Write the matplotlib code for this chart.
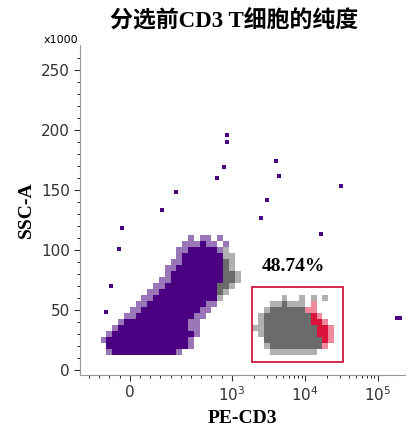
import numpy as np
import matplotlib
matplotlib.use('Agg')
import matplotlib.pyplot as plt
from matplotlib.patches import Rectangle

# density map: rows from y=110 down to y=10 (step 5, x1000),
# columns from u=-0.48 in steps of 0.08 (u = display decades, 0 at value 0)
# P/p purple dense/sparse, G/g gray, R/r red, '.' empty
density_rows = [
    "................p.pp.p",
    "...............pppPpp.p",
    "..............ppPPPPPpg",
    "..............pPPPPPPPgg",
    ".............ppPPPPPPPGg",
    "............ppPPPPPPPPGg",
    "............pPPPPPPPPPGGg",
    "...........ppPPPPPPPPPGGg",
    "..........ppPPPPPPPPPGGg",
    ".........ppPPPPPPPPPPGg",
    "........ppPPPPPPPPPPPg..........g..g.g.g",
    ".......ppPPPPPPPPPPpp.........ggGggg.r",
    "......ppPPPPPPPPPPpp.........gGGGGGGrr",
    ".....ppPPPPPPPPPPpp.........gGGGGGGGGRr",
    "....pPPPPPPPPPPPpp..........gGGGGGGGGRRr",
    "...pPPPPPPPPPPPPpp.........ggGGGGGGGGGRRr",
    "..pPPPPPPPPPPPPPPp..........gGGGGGGGGGRRr",
    ".pPPPPPPPPPPPPPPp............GGGGGGGGGGRr",
    "..PPPPPPPPPPPPPPp............gGGGGGGGGGr",
    "..pPPPPPPPPPPPp...............gggggggg",
    "..........................................",
]
row_y_top = 110
col_u_start = -0.48
cell_u = 0.08
cell_y = 5

# isolated events (u, SSC-A x1000)
outlier_u = [1.33, 1.33, 2.0, 2.05, 2.89, 1.29, 1.2, 0.64, 0.44, -0.11, -0.15,
             -0.26, 2.62, 1.88, 3.66, 3.71, 1.8, -0.33]
outlier_y = [196, 190, 174, 162, 153, 169, 160, 148, 133, 118, 101,
             70, 113, 142, 43, 43, 127, 48]

gate_pct = "48.74%"
gate_u = (1.68, 2.92)
gate_y = (7, 69)

xtick_pos = [0, 1.4, 2.4, 3.4]
xtick_lab = ['0', r'$10^3$', r'$10^4$', r'$10^5$']
ytick_pos = [0, 50, 100, 150, 200, 250]

colors = {'P': '#4b0082', 'p': '#9a76b8', 'G': '#6b6b6b', 'g': '#b0b0b0',
          'R': '#dc143c', 'r': '#ee8a9c'}

fig = plt.figure(figsize=(4.11, 4.40), dpi=100)
ax = fig.add_axes([0.195, 0.148, 0.79, 0.75])

for i, row in enumerate(density_rows):
    y0 = row_y_top - i * cell_y
    for j, ch in enumerate(row):
        if ch in colors:
            ax.add_patch(Rectangle((col_u_start + j * cell_u, y0 - cell_y / 2),
                                   cell_u, cell_y, color=colors[ch], lw=0))

ax.scatter(outlier_u, outlier_y, s=5, marker='s', color='#4b0082', lw=0)

ax.add_patch(Rectangle((gate_u[0], gate_y[0]), gate_u[1] - gate_u[0],
                       gate_y[1] - gate_y[0], fill=False, ec='#d01840', lw=1.3))
ax.text(2.25, 86, gate_pct, fontsize=14, fontweight='bold',
        family='Liberation Serif', ha='center', va='center')

ax.set_xlim(-0.68, 3.77)
ax.set_ylim(-4, 271)
ax.set_xticks(xtick_pos)
ax.set_xticklabels(xtick_lab)
minor = [v / 1000 * 1.4 for v in range(-400, 1000, 100) if v != 0]
for d in (1.4, 2.4):
    minor += [d + np.log10(k) for k in range(2, 10)]
ax.set_xticks(minor, minor=True)
ax.set_yticks(ytick_pos)
ax.set_yticks(range(10, 270, 10), minor=True)
ax.tick_params(labelsize=11, colors='#333333', length=4)
ax.tick_params(which='minor', length=2.5)
for s in ('top', 'right'):
    ax.spines[s].set_visible(False)
for s in ('left', 'bottom'):
    ax.spines[s].set_color('#999999')

ax.set_xlabel('PE-CD3', fontsize=14, fontweight='bold', family='Liberation Serif')
ax.set_ylabel('SSC-A', fontsize=14, fontweight='bold', family='Liberation Serif')
ax.text(-0.06, 1.0, 'x1000', transform=ax.transAxes, fontsize=8, ha='center', va='bottom')
fig.text(0.57, 0.955, '分选前CD3 T细胞的纯度', fontsize=16.5, fontweight='bold',
         ha='center', va='center', family=['Liberation Serif', 'Noto Sans CJK SC'])

fig.savefig('out.png', dpi=100)
